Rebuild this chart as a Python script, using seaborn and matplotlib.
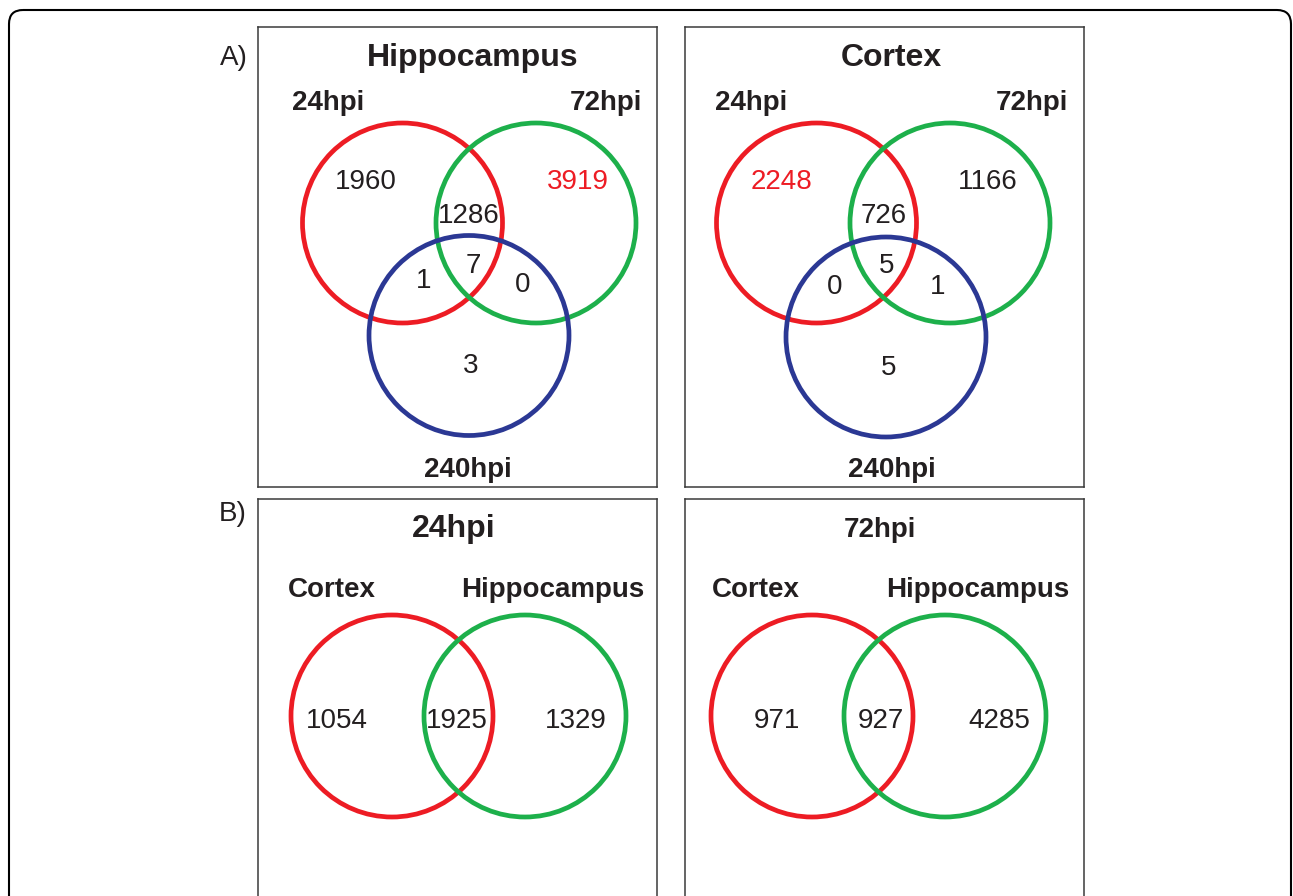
import matplotlib.pyplot as plt
import seaborn as sns
from matplotlib.patches import Circle, FancyBboxPatch

# Dados dos diagramas de Venn
panel_titles = ['Hippocampus', 'Cortex', '24hpi', '72hpi']
time_sets = ['24hpi', '72hpi', '240hpi']
tissue_sets = ['Cortex', 'Hippocampus']

# regioes: so 24, so 72, 24&72, 24&240, 72&240, todos, so 240
hippocampus_counts = [1960, 3919, 1286, 1, 0, 7, 3]
cortex_counts = [2248, 1166, 726, 0, 1, 5, 5]
# regioes: so cortex, ambos, so hippocampus
hpi24_counts = [1054, 1925, 1329]
hpi72_counts = [971, 927, 4285]

# valores destacados em vermelho (maior grupo exclusivo)
highlight = {0: [1], 1: [0]}

sns.set_style('white')
plt.rcParams['font.family'] = ['Liberation Sans', 'DejaVu Sans']

RED = '#ED1C24'
GREEN = '#1DB04B'
BLUE = '#2B3894'
TXT = '#231F20'
W, H = 1293, 896
DY = 3  # pequeno ajuste vertical do texto

fig = plt.figure(figsize=(W / 100, H / 100), dpi=100)

# moldura externa
bg = fig.add_axes([0, 0, 1, 1])
bg.set_xlim(0, W)
bg.set_ylim(H, 0)
bg.axis('off')
bg.add_patch(FancyBboxPatch((9, 10), 1282, 960, boxstyle='round,pad=0,rounding_size=14',
                            fill=False, ec='black', lw=1.5))
bg.text(234, 55 + DY, 'A)', fontsize=20, color=TXT, ha='center', va='center')
bg.text(233, 511 + DY, 'B)', fontsize=20, color=TXT, ha='center', va='center')


def make_panel(x0, y0, w, h):
    ax = fig.add_axes([x0 / W, 1 - (y0 + h) / H, w / W, h / H])
    ax.set_xlim(0, w)
    ax.set_ylim(h, 0)
    ax.set_xticks([])
    ax.set_yticks([])
    for s in ax.spines.values():
        s.set_color('#3a3a3a')
        s.set_linewidth(1.1)
    return ax


def label(ax, pos, s, **kw):
    ax.text(pos[0], pos[1] + DY, s, ha='center', va='center', **kw)


def circle(ax, c, color, r=100):
    ax.add_patch(Circle(c, r, fill=False, ec=color, lw=3.4))


# --- A) tres conjuntos
three_layout = [
    dict(origin=(258, 27), title=(215, 28),
         circles=[(144.5, 196), (278, 196), (211, 308.5)],
         labels=[(70, 73), (348, 73), (210, 440)],
         nums=[(108, 152), (320, 152), (211, 186), (166, 251), (265, 255), (215, 236), (213, 336)]),
    dict(origin=(685, 27), title=(206, 28),
         circles=[(131.5, 196), (265, 196), (201, 310)],
         labels=[(66, 73), (347, 73), (207, 440)],
         nums=[(97, 152), (303, 152), (199, 186), (150, 257), (253, 257), (202, 236), (204, 338)]),
]
for i, (lay, counts) in enumerate(zip(three_layout, [hippocampus_counts, cortex_counts])):
    ax = make_panel(lay['origin'][0], lay['origin'][1], 399, 460)
    label(ax, lay['title'], panel_titles[i], fontsize=23, fontweight='bold', color=TXT)
    for c, col in zip(lay['circles'], [RED, GREEN, BLUE]):
        circle(ax, c, col)
    for pos, name in zip(lay['labels'], time_sets):
        label(ax, pos, name, fontsize=20, fontweight='bold', color=TXT)
    for j, (pos, v) in enumerate(zip(lay['nums'], counts)):
        col = RED if j in highlight.get(i, []) else TXT
        label(ax, pos, str(v), fontsize=20, color=col)

# --- B) dois conjuntos
two_layout = [
    dict(origin=(258, 499), title=(196, 27), tsize=23,
         circles=[(134, 217), (267, 217)],
         labels=[(74, 88), (295, 88)],
         nums=[(79, 219), (199, 219), (318, 219)]),
    dict(origin=(685, 499), title=(195, 28), tsize=20,
         circles=[(127, 217), (260, 217)],
         labels=[(71, 88), (293, 88)],
         nums=[(92, 219), (196, 219), (314, 219)]),
]
for i, (lay, counts) in enumerate(zip(two_layout, [hpi24_counts, hpi72_counts])):
    ax = make_panel(lay['origin'][0], lay['origin'][1], 399, 460)
    label(ax, lay['title'], panel_titles[i + 2], fontsize=lay['tsize'], fontweight='bold',
          color=TXT)
    for c, col in zip(lay['circles'], [RED, GREEN]):
        circle(ax, c, col, r=101)
    for pos, name in zip(lay['labels'], tissue_sets):
        label(ax, pos, name, fontsize=20, fontweight='bold', color=TXT)
    for pos, v in zip(lay['nums'], counts):
        label(ax, pos, str(v), fontsize=20, color=TXT)

fig.savefig('out.png', dpi=100)
